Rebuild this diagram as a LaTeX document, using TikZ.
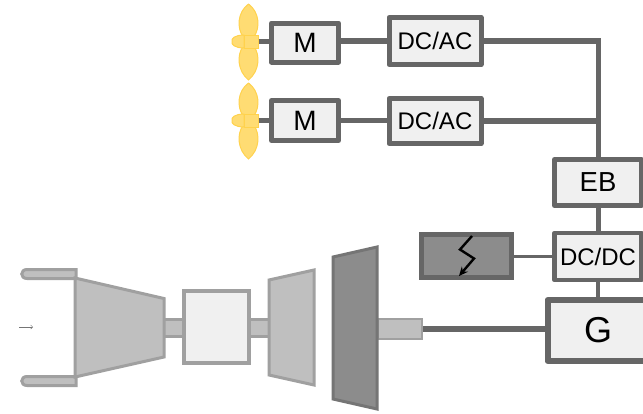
\documentclass[tikz,border=0pt]{standalone}
\usepackage{fontspec}
\setmainfont{Liberation Sans}
\usetikzlibrary{arrows.meta}
\definecolor{frame}{HTML}{666666}
\definecolor{boxfill}{HTML}{F0F0F0}
\definecolor{midgray}{HTML}{BFBFBF}
\definecolor{edgegray}{HTML}{A0A0A0}
\definecolor{darkgray}{HTML}{8C8C8C}
\definecolor{darkedge}{HTML}{757575}
\definecolor{bladefill}{HTML}{FFDC73}
\definecolor{bladeedge}{HTML}{FFD24D}
\newcommand{\fs}[1]{\fontsize{#1}{#1}\selectfont}
\tikzset{
  unitbox/.style={draw=frame,fill=boxfill,line width=5pt,rectangle,inner sep=0pt,text=black,line join=round},
  bus/.style={draw=frame,line width=5.5pt},
  thinbus/.style={draw=frame,line width=4.5pt},
  engine/.style={draw=edgegray,fill=midgray,line width=3pt,line join=miter},
  darkpart/.style={draw=darkedge,fill=darkgray,line width=3pt},
  leafpart/.style={draw=bladeedge,fill=bladefill,line width=1pt,line join=round},
  hubpart/.style={draw=bladeedge,fill=bladefill,line width=1pt,rectangle,inner sep=0pt}
}
\begin{document}
\begin{tikzpicture}[x=1pt,y=-1pt]
\useasboundingbox (0,0) rectangle (643,413);
\clip (0,0) rectangle (643,413);
% gas turbine
\draw[engine] (76,269.5) -- (27,269.5) .. controls (20,269.5) and (20,278.5) .. (27,278.5) -- (76,278.5) -- cycle;
\draw[engine] (76,376.5) -- (27,376.5) .. controls (20,376.5) and (20,385.5) .. (27,385.5) -- (76,385.5) -- cycle;
\node[engine,rectangle,minimum width=20pt,minimum height=17pt,inner sep=0pt] (shaftA) at (173,327.5) {};
\node[engine,rectangle,minimum width=20pt,minimum height=17pt,inner sep=0pt] (shaftB) at (259,327.5) {};
\draw[engine] (75,278) -- (164,298.5) -- (164,357) -- (75,377) -- cycle;
\draw[engine] (269,280) -- (314,270) -- (314,385) -- (269,375) -- cycle;
\node[draw=edgegray,fill=boxfill,line width=4pt,rectangle,inner sep=0pt,minimum width=65pt,minimum height=72pt] (comb) at (216.5,327) {};
\node[draw=edgegray,fill=midgray,line width=2pt,rectangle,inner sep=0pt,minimum width=44pt,minimum height=20pt] (shaftC) at (400,328.5) {};
\draw[darkpart] (333,257) -- (377,247) -- (377,409) -- (333,399) -- cycle;
\coordinate (inA) at (19,327);
\coordinate (inB) at (33,327);
\draw[-{Straight Barb[length=2pt,width=4pt]},draw=darkedge,line width=0.5pt] (inA) -- (inB);
% units
\node[unitbox,minimum width=67pt,minimum height=39pt,font=\fs{28}] (m1) at (305,42.5) {M};
\node[unitbox,minimum width=92pt,minimum height=47pt,font=\fs{24}] (c1) at (435,41) {DC/AC};
\node[unitbox,minimum width=67pt,minimum height=40pt,font=\fs{28}] (m2) at (305,120.5) {M};
\node[unitbox,minimum width=92pt,minimum height=45pt,font=\fs{24}] (c2) at (435,121) {DC/AC};
\node[unitbox,minimum width=87pt,minimum height=46pt,font=\fs{27.5}] (eb) at (598,182.5) {EB};
\node[unitbox,line width=4.5pt,minimum width=87pt,minimum height=47pt,font=\fs{24}] (dd) at (598,256.5) {DC/DC};
\node[unitbox,line width=6pt,minimum width=101pt,minimum height=61pt,font=\fs{36}] (g) at (598,330.5) {G};
\node[draw=frame,fill=darkgray,line width=5pt,rectangle,inner sep=0pt,minimum width=90pt,minimum height=43pt] (bat) at (466.5,256) {};
% lightning
\coordinate (z1) at (472,236);
\coordinate (z2) at (460,249.5);
\coordinate (z3) at (474,258.5);
\coordinate (z4) at (459,276);
\draw[black,line width=2.4pt,-{Stealth[length=9pt,width=8pt]}] (z1) -- (z2) -- (z3) -- (z4);
% connectors
\draw[bus] (c1.west -| m1.east) -- (c1.west);
\draw[thinbus] (m2.east) -- (m2.east -| c2.west);
\coordinate (busTop) at (598.5,41);
\draw[bus] (c1.east) -- (busTop);
\draw[thinbus] (598.5,38.25) -- (busTop |- eb.north);
\draw[bus] (c2.east) -- (c2.east -| busTop);
\draw[thinbus,line width=5pt] (eb.south) -- (dd.north);
\draw[thinbus,line width=3.5pt] (bat.east |- dd.west) -- (dd.west);
\draw[thinbus] (dd.south) -- (g.north);
\draw[draw=frame,line width=6pt] (shaftC.east) -- (shaftC.east -| g.west);
% propellers
\foreach \n/\yc in {a/41.5,b/120.5}{
  \draw[leafpart] (248.5,\yc-37.5) .. controls (237,\yc-29) and (237,\yc-13) .. (243,\yc-5) -- (254,\yc-5) .. controls (260,\yc-13) and (260,\yc-29) .. (248.5,\yc-37.5) -- cycle;
  \draw[leafpart] (248.5,\yc+38.5) .. controls (237,\yc+29) and (237,\yc+13) .. (243,\yc+5) -- (254,\yc+5) .. controls (260,\yc+13) and (260,\yc+29) .. (248.5,\yc+38.5) -- cycle;
  \draw[leafpart] (244,\yc-6.5) .. controls (235,\yc-6.5) and (231,\yc-3) .. (232,\yc) .. controls (231,\yc+3) and (235,\yc+6.5) .. (244,\yc+6.5) -- cycle;
  \node[hubpart,minimum width=14pt,minimum height=13pt] (\n s) at (251,\yc) {};
}
\draw[thinbus] (as.east) -- (m1.west |- as.east);
\draw[thinbus] (bs.east) -- (m2.west |- bs.east);
\end{tikzpicture}
\end{document}
